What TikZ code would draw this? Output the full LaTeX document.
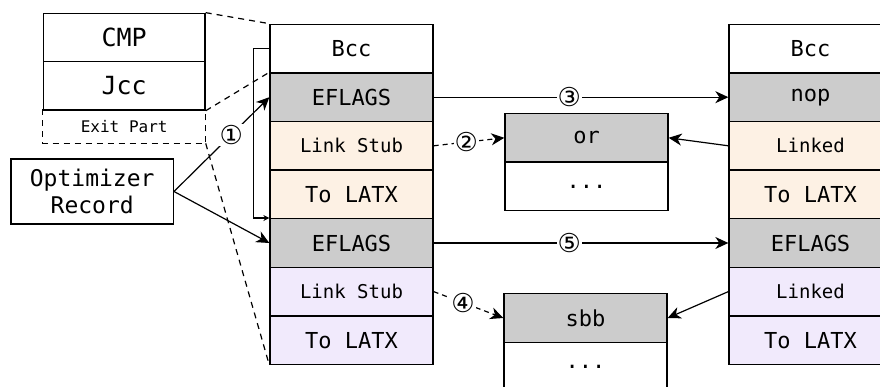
\documentclass[tikz,border=0pt]{standalone}
\usepackage{fontspec}
\setmonofont{DejaVu Sans Mono}
\newfontfamily\circfont{DejaVu Sans}
\usetikzlibrary{arrows.meta}

\definecolor{flaggray}{HTML}{CCCCCC}
\definecolor{stubpeach}{HTML}{FDF1E4}
\definecolor{stubviolet}{HTML}{F1EAFC}

\tikzset{
  cell/.style={draw, line width=1.3pt, minimum width=163pt, minimum height=48.6pt,
    inner sep=0pt, font=\ttfamily\fontsize{22}{26}\selectfont},
  smallcell/.style={cell, font=\ttfamily\fontsize{19}{22}\selectfont},
  grayc/.style={fill=flaggray},
  peachc/.style={fill=stubpeach},
  violetc/.style={fill=stubviolet},
  arr/.style={line width=1.2pt, -{Stealth[length=13pt,width=12pt,inset=4pt]}},
  darr/.style={arr, dash pattern=on 5pt off 4pt},
  zoomline/.style={line width=1.2pt, dash pattern=on 6pt off 5pt},
  lbl/.style={fill=white, inner sep=1pt, font=\circfont\fontsize{26}{26}\selectfont}
}

\begin{document}
\begin{tikzpicture}[x=1pt, y=-1pt]
\clip (0,0) rectangle (880,387);

% translated block (left)
\node[cell]          (bcc)  at (351.5, 48.6)  {Bcc};
\node[cell,grayc]    (ef1)  at (351.5, 97.2)  {EFLAGS};
\node[smallcell,peachc]  (ls1) at (351.5,145.8) {Link Stub};
\node[cell,peachc]   (tl1)  at (351.5,194.4)  {To LATX};
\node[cell,grayc]    (ef2)  at (351.5,243.0)  {EFLAGS};
\node[smallcell,violetc] (ls2) at (351.5,291.6) {Link Stub};
\node[cell,violetc]  (tl2)  at (351.5,340.2)  {To LATX};

% optimized block (right)
\node[cell]          (rbcc) at (810.5, 48.6)  {Bcc};
\node[cell,grayc]    (nop)  at (810.5, 97.2)  {nop};
\node[smallcell,peachc]  (lk1) at (810.5,145.8) {Linked};
\node[cell,peachc]   (rtl1) at (810.5,194.4)  {To LATX};
\node[cell,grayc]    (ref2) at (810.5,243.0)  {EFLAGS};
\node[smallcell,violetc] (lk2) at (810.5,291.6) {Linked};
\node[cell,violetc]  (rtl2) at (810.5,340.2)  {To LATX};

% successor blocks
\node[cell,grayc] (orb)  at (586.5,137.8) {or};
\node[cell]       (ord)  at (586.5,186.4) {...};
\node[cell,grayc] (sbb)  at (585.5,318.0) {sbb};
\node[cell]       (sbd)  at (585.5,366.6) {...};

% guest instructions
\node[cell, minimum width=161.7pt, minimum height=48.4pt,
      font=\ttfamily\fontsize{25}{28}\selectfont] (cmp) at (124.2,37.5) {CMP};
\node[cell, minimum width=161.7pt, minimum height=48.4pt,
      font=\ttfamily\fontsize{25}{28}\selectfont] (jcc) at (124.2,85.9) {Jcc};
\node[cell, draw=none, minimum width=161.7pt, minimum height=32.7pt,
      font=\ttfamily\fontsize{16}{18}\selectfont] (exit) at (124.2,126.4) {Exit Part};
\draw[zoomline] (exit.north west) -- (exit.south west) -- (exit.south east) -- (exit.north east);

% optimizer record
\node[draw, line width=1.3pt, minimum width=162.3pt, minimum height=65pt, inner sep=0pt,
      align=center, font=\ttfamily\fontsize{23}{27}\selectfont] (opt) at (92.2,191.5)
      {Optimizer\\Record};

% zoom lines from guest code to translated block
\draw[zoomline] (cmp.north east) -- (bcc.north west);
\draw[zoomline] (jcc.south east) -- (ef1.north west);
\draw[zoomline] (exit.south east) -- (tl2.south west);

% branch skip inside translated block
\draw[line width=1.2pt, -{Stealth[length=6pt,width=6pt,inset=2pt]}]
  (bcc.west) -- ++(-16,0) |- (ef2.north west);

% record pointers
\draw[arr] (opt.east) -- node[lbl, pos=0.6] {①} (ef1.west);
\draw[arr] (opt.east) -- (ef2.west);

% EFLAGS elimination
\draw[arr] (ef1.east) -- node[lbl, pos=0.46] {③} (nop.west);
\draw[arr] (ef2.east) -- node[lbl, pos=0.46] {⑤} (ref2.west);

% linking
\draw[darr] (ls1.east) -- node[lbl, pos=0.46] {②} (orb.west);
\draw[darr] (ls2.east) -- node[lbl, pos=0.42] {④} (sbb.west);
\draw[arr] (lk1.west) -- (orb.east);
\draw[arr] (lk2.west) -- (sbb.east);
\end{tikzpicture}
\end{document}
